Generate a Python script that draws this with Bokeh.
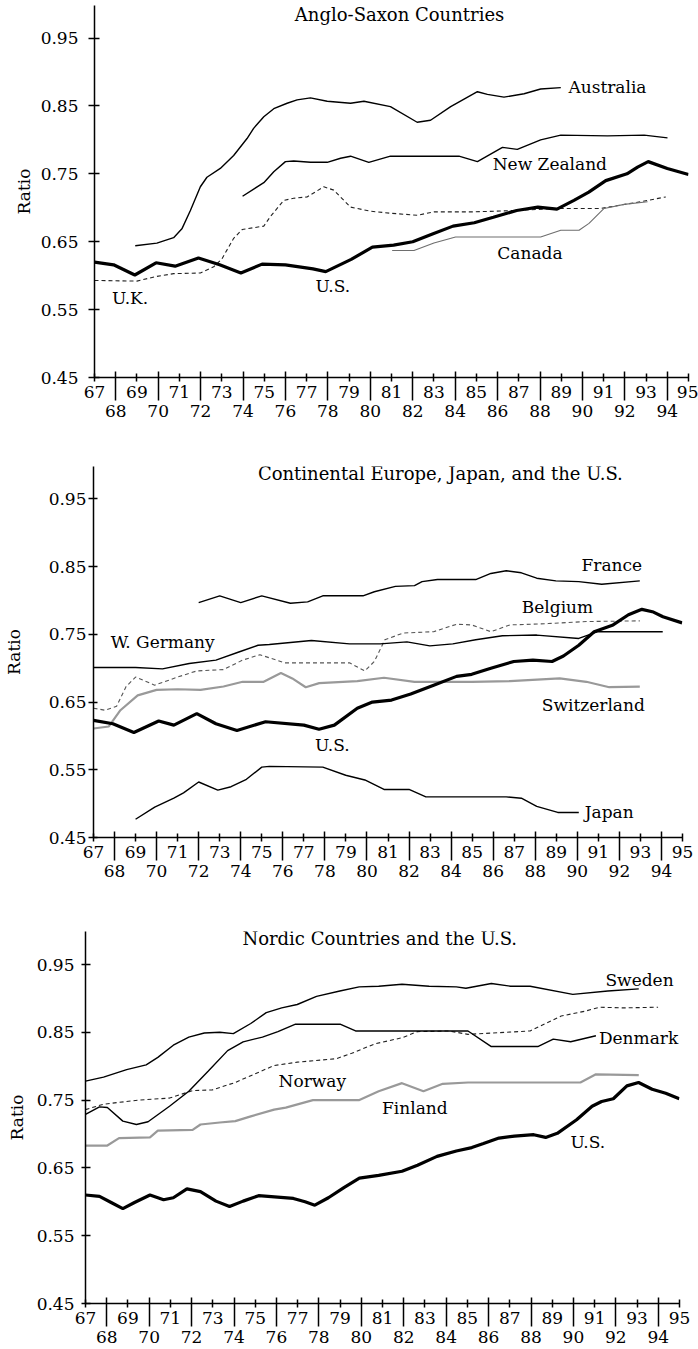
from bokeh.plotting import figure
from bokeh.models import Range1d, FixedTicker, LinearAxis, PrintfTickFormatter, Label
from bokeh.embed import file_html
from bokeh.resources import INLINE

FONT = "DejaVu Serif"

# ---------------- axis ticks ----------------
odd_years = list(range(67, 96, 2))
even_years = list(range(68, 95, 2))
y_ticks = [0.45, 0.55, 0.65, 0.75, 0.85, 0.95]

# ---------------- Panel 1: Anglo-Saxon countries ----------------
us1_x = [67.0, 67.9, 68.9, 69.9, 70.8, 71.9, 72.9, 73.9, 74.9, 76.0, 77.3, 77.9, 79.1, 80.1, 81.1,
         82.0, 82.9, 83.9, 84.9, 85.8, 86.9, 87.9, 88.8, 89.6, 90.3, 91.1, 92.1, 92.6, 93.1, 94.0, 95.0]
us1_y = [0.620, 0.616, 0.601, 0.619, 0.614, 0.626, 0.616, 0.604, 0.617, 0.616, 0.610, 0.606, 0.624, 0.642, 0.645,
         0.650, 0.661, 0.673, 0.678, 0.686, 0.696, 0.701, 0.698, 0.711, 0.723, 0.740, 0.750, 0.760, 0.768, 0.758, 0.749]
aus_x = [68.92, 69.94, 70.73, 71.12, 71.52, 71.99, 72.3, 72.93, 73.56, 74.19, 74.5, 74.98, 75.45, 76.08,
         76.55, 77.18, 77.97, 79.07, 79.7, 80.95, 82.21, 82.84, 83.79, 85.05, 85.52, 86.3, 87.25, 88.03, 88.98]
aus_y = [0.644, 0.648, 0.656, 0.669, 0.696, 0.731, 0.745, 0.758, 0.777, 0.802, 0.817, 0.834, 0.846, 0.854,
         0.859, 0.862, 0.857, 0.854, 0.857, 0.849, 0.826, 0.829, 0.849, 0.871, 0.867, 0.863, 0.868, 0.875, 0.877]
nz_x = [73.98, 74.98, 75.45, 76.0, 76.39, 77.18, 77.97, 78.6, 79.07, 79.93, 80.95, 82.69, 84.18, 85.05,
        86.23, 86.93, 88.03, 88.98, 91.18, 92.91, 94.01]
nz_y = [0.717, 0.737, 0.753, 0.768, 0.769, 0.767, 0.767, 0.773, 0.776, 0.767, 0.776, 0.776, 0.776, 0.768,
        0.789, 0.786, 0.800, 0.807, 0.806, 0.807, 0.803]
can_x = [81.03, 82.06, 83.0, 84.02, 88.03, 88.98, 89.84, 90.31, 91.02, 91.97, 93.07]
can_y = [0.637, 0.637, 0.648, 0.657, 0.657, 0.667, 0.667, 0.677, 0.699, 0.705, 0.709]
uk_x = [67.0, 69.0, 69.94, 70.73, 71.99, 72.62, 73.01, 73.56, 73.96, 74.98, 75.29, 75.92, 76.39, 77.02,
        77.81, 78.28, 79.07, 80.0, 80.95, 82.21, 83.0, 84.89, 86.78, 88.82, 90.87, 92.75, 93.93]
uk_y = [0.593, 0.592, 0.599, 0.603, 0.604, 0.613, 0.625, 0.655, 0.668, 0.673, 0.687, 0.711, 0.714, 0.716,
        0.731, 0.726, 0.701, 0.695, 0.692, 0.689, 0.694, 0.694, 0.696, 0.699, 0.699, 0.709, 0.716]

# ---------------- Panel 2: Continental Europe, Japan ----------------
us2_x = [67.0, 67.92, 68.92, 70.1, 70.82, 71.91, 72.82, 73.82, 75.18, 77.0, 77.72, 78.45, 79.54, 80.26,
         81.17, 82.08, 83.17, 84.26, 84.98, 85.89, 86.98, 87.89, 88.8, 89.34, 90.07, 90.8, 91.7, 92.43,
         93.07, 93.62, 94.07, 94.98]
us2_y = [0.623, 0.618, 0.605, 0.622, 0.616, 0.633, 0.618, 0.608, 0.621, 0.616, 0.610, 0.616, 0.641, 0.650,
         0.653, 0.662, 0.675, 0.688, 0.691, 0.700, 0.710, 0.712, 0.710, 0.718, 0.734, 0.754, 0.764, 0.779,
         0.787, 0.783, 0.776, 0.767]
fra_x = [72.0, 73.0, 74.0, 75.0, 76.36, 77.18, 77.9, 79.81, 80.35, 81.35, 82.26, 82.62, 83.35, 85.17,
         85.89, 86.62, 87.34, 88.07, 88.98, 90.07, 91.16, 92.97]
fra_y = [0.797, 0.807, 0.797, 0.807, 0.796, 0.798, 0.807, 0.807, 0.813, 0.821, 0.822, 0.828, 0.831, 0.831,
         0.840, 0.844, 0.841, 0.833, 0.829, 0.828, 0.824, 0.829]
wger_x = [67.0, 69.0, 70.28, 71.55, 72.82, 73.91, 74.82, 75.36, 77.36, 79.17, 80.63, 81.9, 82.99, 84.08,
          85.17, 86.44, 88.07, 90.07, 90.98, 94.06]
wger_y = [0.701, 0.701, 0.699, 0.707, 0.712, 0.724, 0.734, 0.735, 0.741, 0.736, 0.736, 0.739, 0.733, 0.736,
          0.742, 0.748, 0.749, 0.744, 0.754, 0.754]
bel_x = [67.0, 67.55, 68.1, 68.55, 69.0, 69.91, 71.0, 71.91, 73.18, 74.09, 74.91, 76.09, 79.17, 79.9, 80.35,
         80.85, 81.72, 83.17, 84.26, 84.98, 85.89, 86.8, 88.62, 90.43, 92.97]
bel_y = [0.641, 0.638, 0.644, 0.673, 0.687, 0.675, 0.687, 0.696, 0.698, 0.712, 0.720, 0.708, 0.708, 0.696, 0.710,
         0.742, 0.752, 0.754, 0.765, 0.764, 0.754, 0.764, 0.766, 0.769, 0.770]
swi_x = [67.0, 67.73, 68.28, 69.1, 70.0, 71.0, 72.09, 73.18, 74.09, 75.09, 75.91, 76.45, 77.09, 77.73,
         79.54, 80.81, 82.26, 84.98, 86.8, 89.16, 90.43, 91.52, 92.97]
swi_y = [0.611, 0.614, 0.638, 0.660, 0.668, 0.669, 0.668, 0.673, 0.680, 0.680, 0.693, 0.685, 0.672, 0.678,
         0.681, 0.686, 0.680, 0.680, 0.681, 0.685, 0.680, 0.672, 0.673]
jap_x = [69.0, 69.91, 70.82, 71.28, 72.0, 72.91, 73.54, 74.27, 75.0, 75.36, 77.9, 78.99, 79.9, 80.81,
         82.0, 82.8, 86.62, 87.34, 88.07, 89.07, 90.07]
jap_y = [0.477, 0.495, 0.508, 0.516, 0.532, 0.520, 0.525, 0.536, 0.554, 0.555, 0.554, 0.542, 0.535, 0.521,
         0.521, 0.510, 0.510, 0.508, 0.496, 0.487, 0.487]

# ---------------- Panel 3: Nordic countries ----------------
us3_x = [67.0, 67.66, 68.21, 68.76, 69.31, 70.04, 70.68, 71.14, 71.78, 72.42, 73.15, 73.79, 74.43, 75.16,
         76.8, 77.35, 77.81, 78.45, 79.18, 79.91, 80.82, 81.92, 82.65, 83.57, 84.48, 85.21, 85.76, 86.49,
         87.22, 88.13, 88.69, 89.24, 90.15, 90.88, 91.33, 91.88, 92.52, 93.07, 93.71, 94.35, 94.99]
us3_y = [0.610, 0.608, 0.599, 0.590, 0.599, 0.610, 0.603, 0.606, 0.619, 0.615, 0.601, 0.593, 0.601, 0.609,
         0.605, 0.600, 0.595, 0.606, 0.621, 0.635, 0.639, 0.645, 0.654, 0.667, 0.675, 0.680, 0.686, 0.694,
         0.697, 0.699, 0.695, 0.701, 0.721, 0.741, 0.748, 0.752, 0.771, 0.776, 0.766, 0.760, 0.752]
swe_x = [67.0, 67.85, 68.94, 69.86, 70.41, 71.14, 71.87, 72.6, 73.33, 73.97, 74.79, 75.52, 76.25, 76.98,
         77.89, 78.99, 79.9, 80.82, 81.92, 83.2, 84.48, 84.93, 86.13, 87.04, 87.96, 89.97, 91.62, 93.08]
swe_y = [0.778, 0.784, 0.795, 0.802, 0.813, 0.831, 0.843, 0.849, 0.850, 0.848, 0.863, 0.879, 0.886, 0.891,
         0.903, 0.911, 0.917, 0.918, 0.921, 0.918, 0.917, 0.915, 0.922, 0.918, 0.918, 0.906, 0.911, 0.914]
den_x = [67.0, 67.66, 68.03, 68.76, 69.4, 69.95, 70.96, 71.87, 72.79, 73.7, 74.43, 75.34, 76.07, 76.9,
         79.0, 79.73, 85.03, 86.13, 88.32, 89.05, 89.87, 91.06]
den_y = [0.729, 0.740, 0.739, 0.719, 0.714, 0.718, 0.741, 0.763, 0.793, 0.823, 0.836, 0.843, 0.851, 0.862,
         0.862, 0.852, 0.852, 0.829, 0.829, 0.840, 0.836, 0.845]
nor_x = [67.0, 67.85, 69.49, 70.96, 72.05, 72.97, 74.06, 74.79, 75.89, 76.98, 78.81, 79.55, 80.64, 81.92,
         82.65, 84.12, 85.03, 87.96, 89.42, 90.52, 91.25, 92.34, 93.99]
nor_y = [0.736, 0.744, 0.750, 0.753, 0.764, 0.765, 0.776, 0.786, 0.801, 0.806, 0.811, 0.819, 0.833, 0.842,
         0.851, 0.852, 0.847, 0.852, 0.874, 0.881, 0.887, 0.886, 0.887]
fin_x = [67.0, 68.03, 68.58, 70.04, 70.41, 72.05, 72.42, 73.33, 74.06, 74.79, 75.89, 76.44, 77.72, 79.91,
         80.82, 81.92, 82.93, 83.84, 85.03, 90.33, 91.06, 93.08]
fin_y = [0.683, 0.683, 0.694, 0.695, 0.705, 0.706, 0.714, 0.717, 0.719, 0.726, 0.736, 0.739, 0.750, 0.750,
         0.763, 0.775, 0.763, 0.774, 0.776, 0.776, 0.788, 0.787]

# ---------------- styles ----------------
US = dict(line_color="black", line_width=3.2)
SOLID = dict(line_color="black", line_width=1.4)
DASH = dict(line_color="#222222", line_width=1.1, line_dash="4 3")
GREY = dict(line_color="#999999", line_width=2.2)
THIN_GREY = dict(line_color="#6e6e6e", line_width=1.1)

NUDGE = 0.0095  # baseline correction for the in-plot text labels

panels = [
    dict(height=427, y_end=0.998, bl=94, br=10, bt=5, bb=50,
         ytick_out=6, ytick_in=5, ystand=10, ylabstand=4,
         title=("Anglo-Saxon Countries", 81.38, 0.9752),
         series=[(uk_x, uk_y, DASH), (can_x, can_y, THIN_GREY), (aus_x, aus_y, SOLID),
                 (nz_x, nz_y, SOLID), (us1_x, us1_y, US)],
         labels=[("Australia", 89.34, 0.8683), ("New Zealand", 85.77, 0.7543), ("Canada", 85.99, 0.6242),
                 ("U.S.", 77.42, 0.5752), ("U.K.", 67.82, 0.558)]),
    dict(height=460, y_end=0.998, bl=89, br=16, bt=39, bb=50,
         ytick_out=5, ytick_in=4, ystand=2, ylabstand=22,
         title=("Continental Europe, Japan, and the U.S.", 83.49, 0.9785),
         series=[(bel_x, bel_y, dict(DASH, line_color="#555555")), (swi_x, swi_y, GREY),
                 (wger_x, wger_y, SOLID), (fra_x, fra_y, SOLID), (jap_x, jap_y, SOLID), (us2_x, us2_y, US)],
         labels=[("France", 90.2, 0.8426), ("Belgium", 87.36, 0.7815), ("W. Germany", 67.82, 0.7293),
                 ("Switzerland", 88.31, 0.6357), ("U.S.", 77.53, 0.5766), ("Japan", 90.35, 0.4781)]),
    dict(height=462, y_end=0.9987, bl=85, br=19, bt=44, bb=46,
         ytick_out=4, ytick_in=5, ystand=7, ylabstand=7,
         title=("Nordic Countries and the U.S.", 80.87, 0.979),
         series=[(nor_x, nor_y, DASH), (fin_x, fin_y, GREY), (swe_x, swe_y, SOLID),
                 (den_x, den_y, SOLID), (us3_x, us3_y, US)],
         labels=[("Sweden", 91.51, 0.9176), ("Denmark", 91.2, 0.8316), ("Norway", 76.1, 0.7686),
                 ("Finland", 80.98, 0.7283), ("U.S.", 89.86, 0.6792)]),
]


def build(spec):
    p = figure(width=698, height=spec["height"], output_backend="svg", toolbar_location=None,
               x_range=Range1d(67, 95), y_range=Range1d(0.45, spec["y_end"]),
               min_border_left=spec["bl"], min_border_right=spec["br"],
               min_border_top=spec["bt"], min_border_bottom=spec["bb"])
    p.outline_line_color = None
    p.xgrid.visible = False
    p.ygrid.visible = False
    p.background_fill_color = "white"
    p.border_fill_color = "white"

    # first row: odd years, short crossing ticks
    xa = p.xaxis[0]
    xa.ticker = FixedTicker(ticks=odd_years)
    xa.axis_line_width = 1.5
    xa.major_tick_in = 4
    xa.major_tick_out = 4
    xa.major_tick_line_width = 1.5
    xa.minor_tick_line_color = None
    xa.major_label_standoff = 4
    xa.major_label_text_font = FONT
    xa.major_label_text_font_size = "17px"
    xa.major_label_text_color = "black"

    # second row: even years, long ticks reaching up through the first row
    ea = LinearAxis(ticker=FixedTicker(ticks=even_years))
    ea.axis_line_color = None
    ea.major_tick_line_width = 1.5
    ea.major_tick_line_color = "black"
    ea.minor_tick_line_color = None
    ea.major_tick_in = 29
    ea.major_tick_out = 0
    ea.major_label_standoff = 4
    ea.major_label_text_font = FONT
    ea.major_label_text_font_size = "17px"
    ea.major_label_text_color = "black"
    p.add_layout(ea, "below")

    ya = p.yaxis[0]
    ya.ticker = FixedTicker(ticks=y_ticks)
    ya.formatter = PrintfTickFormatter(format="%.2f")
    ya.axis_line_width = 1.5
    ya.major_tick_in = spec["ytick_in"]
    ya.major_tick_out = spec["ytick_out"]
    ya.major_tick_line_width = 1.5
    ya.minor_tick_line_color = None
    ya.major_label_standoff = spec["ystand"]
    ya.major_label_text_font = FONT
    ya.major_label_text_font_size = "17px"
    ya.major_label_text_color = "black"
    ya.axis_label = "Ratio"
    ya.axis_label_text_font = FONT
    ya.axis_label_text_font_size = "17px"
    ya.axis_label_text_font_style = "normal"
    ya.axis_label_text_color = "black"
    ya.axis_label_standoff = spec["ylabstand"]

    for xs, ys, style in spec["series"]:
        p.line(xs, ys, **style)

    t, tx, ty = spec["title"]
    p.add_layout(Label(x=tx, y=ty + NUDGE, text=t, text_font=FONT, text_font_size="18px",
                       text_align="center", text_baseline="alphabetic", text_color="black"))
    for t, lx, ly in spec["labels"]:
        p.add_layout(Label(x=lx, y=ly + NUDGE, text=t, text_font=FONT, text_font_size="17px",
                           text_align="left", text_baseline="alphabetic", text_color="black"))
    return p


# three independent roots stacked on the page, so that each frame keeps its own borders
p = [build(s) for s in panels]
open("out.html", "w").write(file_html(p, INLINE))
